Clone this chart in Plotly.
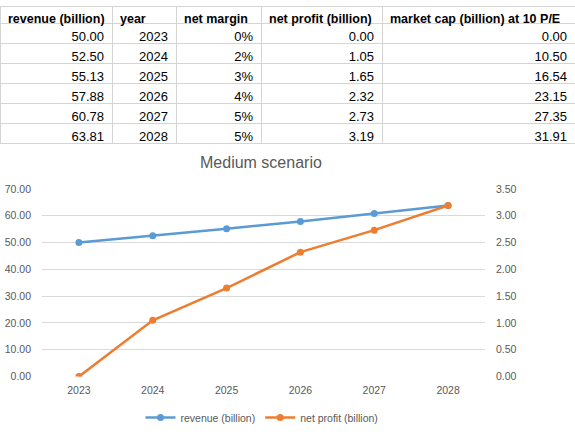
import plotly.graph_objects as go

years = [2023, 2024, 2025, 2026, 2027, 2028]
revenue = [50.00, 52.50, 55.13, 57.88, 60.78, 63.81]
net_margin = [0.00, 0.02, 0.03, 0.04, 0.05, 0.05]
net_profit = [0.00, 1.05, 1.65, 2.32, 2.73, 3.19]
market_cap = [0.00, 10.50, 16.54, 23.15, 27.35, 31.91]

headers = ["revenue (billion)", "year", "net margin", "net profit (billion)",
           "market cap (billion) at 10 P/E"]

W, H = 575, 440
font_fam = "Liberation Sans, Arial, sans-serif"
grey_txt = "#595959"
blue = "#5B9BD5"
orange = "#ED7D31"

fig = go.Figure()

# the spreadsheet part (non-breaking spaces stop plotly wrapping the headers)
head_txt = [h.replace(" ", "\u00a0") for h in headers]
fig.add_trace(go.Table(
    domain={"x": [0, 1], "y": [1 - 150 / H, 1]},
    columnwidth=[112, 64, 85, 121, 193],
    header=dict(values=head_txt,
                align="left", height=17,
                fill_color="white", line_color="#d4d4d4",
                font=dict(family=font_fam, size=12.5, color="black",
                          weight="bold")),
    cells=dict(values=[revenue, years, net_margin, net_profit, market_cap],
               format=[".2f", "d", ".0%", ".2f", ".2f"],
               align="right", height=20,
               fill_color="white", line_color="#d4d4d4",
               font=dict(family=font_fam, size=13, color="black")),
))

# the chart
xcat = [str(y) for y in years]
fig.add_trace(go.Scatter(x=xcat, y=revenue, name="revenue (billion)",
                         mode="lines+markers",
                         line=dict(color=blue, width=2.5),
                         marker=dict(color=blue, size=7)))
fig.add_trace(go.Scatter(x=xcat, y=net_profit, name="net profit (billion)",
                         mode="lines+markers", yaxis="y2",
                         line=dict(color=orange, width=2.5),
                         marker=dict(color=orange, size=7)))

tick_font = dict(family=font_fam, size=10.5, color=grey_txt)
fig.update_layout(
    width=W, height=H,
    margin=dict(l=0, r=0, t=0, b=0),
    paper_bgcolor="white", plot_bgcolor="white",
    font=dict(family=font_fam, color=grey_txt),
    showlegend=True,
    xaxis=dict(domain=[42 / W, 485 / W], type="category", range=[-0.5, 5.5],
               showgrid=False, showline=False, zeroline=False,
               tickfont=tick_font, ticklabelstandoff=6),
    yaxis=dict(domain=[(H - 381) / H, (H - 188) / H], range=[0, 70],
               dtick=10, tickformat=".2f", gridcolor="#D9D9D9",
               zeroline=False, showline=False,
               tickfont=tick_font, ticklabelstandoff=10),
    yaxis2=dict(overlaying="y", side="right", range=[0, 3.5],
                dtick=0.5, tickformat=".2f", showgrid=False,
                zeroline=False, showline=False,
                tickfont=tick_font, ticklabelstandoff=10),
    legend=dict(orientation="h", x=262 / W, xanchor="center",
                y=(H - 423) / H, yanchor="middle", itemwidth=30,
                font=dict(family=font_fam, size=10.5, color=grey_txt)),
    annotations=[dict(text="Medium scenario", x=261 / W, y=1 - 161 / H,
                      xref="paper", yref="paper", showarrow=False,
                      xanchor="center", yanchor="middle",
                      font=dict(family=font_fam, size=16, color=grey_txt))],
)

# page body has an 8px default margin, drop it so the figure sits at 0,0
fig.write_html("out.html", config={"displayModeBar": False},
               post_script="document.body.style.margin='0';")
